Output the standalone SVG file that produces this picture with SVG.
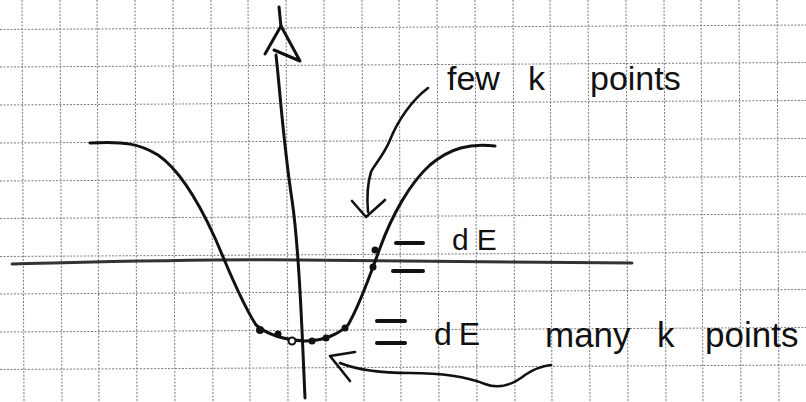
<svg xmlns="http://www.w3.org/2000/svg" width="806" height="402" viewBox="0 0 806 402">
<defs>
<style>
.grid line{stroke:#7a7a7a;stroke-width:1;stroke-dasharray:2 1.5}
.ink{fill:none;stroke:#111;stroke-width:3;stroke-linecap:round;stroke-linejoin:round}
.thin{stroke-width:2.6}
.hand{font-family:"Liberation Sans","DejaVu Sans",sans-serif;fill:#111}
.dot{fill:#111}
.bar{stroke:#111;stroke-width:4;stroke-linecap:round}
</style>
</defs>
<rect width="806" height="402" fill="#fff"/>
<g id="grid" class="grid">
<line x1="22" y1="0" x2="24" y2="402"/>
<line x1="60" y1="0" x2="62" y2="402"/>
<line x1="97" y1="0" x2="99" y2="402"/>
<line x1="135" y1="0" x2="137" y2="402"/>
<line x1="173" y1="0" x2="175" y2="402"/>
<line x1="211" y1="0" x2="213" y2="402"/>
<line x1="248" y1="0" x2="250" y2="402"/>
<line x1="286" y1="0" x2="288" y2="402"/>
<line x1="324" y1="0" x2="326" y2="402"/>
<line x1="362" y1="0" x2="364" y2="402"/>
<line x1="399" y1="0" x2="401" y2="402"/>
<line x1="437" y1="0" x2="439" y2="402"/>
<line x1="475" y1="0" x2="477" y2="402"/>
<line x1="513" y1="0" x2="515" y2="402"/>
<line x1="550" y1="0" x2="552" y2="402"/>
<line x1="588" y1="0" x2="590" y2="402"/>
<line x1="626" y1="0" x2="628" y2="402"/>
<line x1="664" y1="0" x2="666" y2="402"/>
<line x1="701" y1="0" x2="703" y2="402"/>
<line x1="739" y1="0" x2="741" y2="402"/>
<line x1="777" y1="0" x2="779" y2="402"/>
<line x1="0" y1="29.5" x2="806" y2="25"/>
<line x1="0" y1="67" x2="806" y2="62.5"/>
<line x1="0" y1="105" x2="806" y2="100.5"/>
<line x1="0" y1="143" x2="806" y2="138.5"/>
<line x1="0" y1="181" x2="806" y2="176.5"/>
<line x1="0" y1="218.5" x2="806" y2="214"/>
<line x1="0" y1="256.5" x2="806" y2="252"/>
<line x1="0" y1="294" x2="806" y2="289.5"/>
<line x1="0" y1="332" x2="806" y2="327.5"/>
<line x1="0" y1="369.5" x2="806" y2="365"/>
</g>
<g id="axes">
<path class="ink" d="M 12,264 C 100,262 200,259 300,260 C 400,261 500,262 632,263" style="stroke:#333"/>
<path class="ink" d="M 279,7 L 281,27"/>
<path class="ink" d="M 265,54 L 281,26 L 300,61 L 274,50"/>
<path class="ink" d="M 276,55 C 280,90 283,140 292,200 C 298,240 300,290 302,330 L 305,398"/>
</g>
<g id="band">
<path class="ink" d="M 90,143 C 125,141 140,144 158,155 C 180,170 200,205 215,238 C 228,268 240,300 256,325 C 268,335 285,340 305,341 C 325,341 340,333 348,325 C 360,305 370,275 380,248 C 392,215 410,183 430,165 C 450,148 470,143 495,146"/>
<circle class="dot" cx="260" cy="330" r="4"/>
<circle class="dot" cx="278" cy="334" r="3.5"/>
<circle cx="292" cy="341" r="3.5" fill="#fff" stroke="#111" stroke-width="2"/>
<circle class="dot" cx="312" cy="341" r="3.5"/>
<circle class="dot" cx="326" cy="338" r="3.5"/>
<circle class="dot" cx="345" cy="328" r="3.5"/>
<circle class="dot" cx="375" cy="250" r="3.5"/>
<circle class="dot" cx="373" cy="267" r="3.5"/>
</g>
<g id="window-upper">
<line class="bar" x1="396" y1="243" x2="423" y2="243"/>
<line class="bar" x1="393" y1="271" x2="423" y2="271"/>
<text class="hand" x="452" y="250" font-size="30" letter-spacing="8">dE</text>
</g>
<g id="window-lower">
<line class="bar" x1="377" y1="321" x2="405" y2="321"/>
<line class="bar" x1="377" y1="343" x2="405" y2="343"/>
<text class="hand" x="434" y="345" font-size="32" letter-spacing="7">dE</text>
</g>
<g id="label-few">
<text class="hand" y="90" font-size="34"><tspan x="447">few</tspan> <tspan x="528">k</tspan> <tspan x="590">points</tspan></text>
</g>
<g id="label-many">
<text class="hand" y="347" font-size="35"><tspan x="545">many</tspan> <tspan x="657">k</tspan> <tspan x="705">points</tspan></text>
</g>
<g id="connectors">
<path class="ink thin" d="M 428,88 C 412,100 398,120 390,140 C 384,155 374,165 371,172 C 367,185 367,200 368,212"/>
<path class="ink thin" d="M 352,201 L 366,217 L 385,200"/>
<path class="ink thin" d="M 340,363 C 355,369 380,373 410,373 C 440,373 465,376 485,384 C 500,390 515,383 525,375 C 535,368 543,366 551,365"/>
<path class="ink thin" d="M 355,352 L 330,356 L 350,381"/>
</g>
</svg>
